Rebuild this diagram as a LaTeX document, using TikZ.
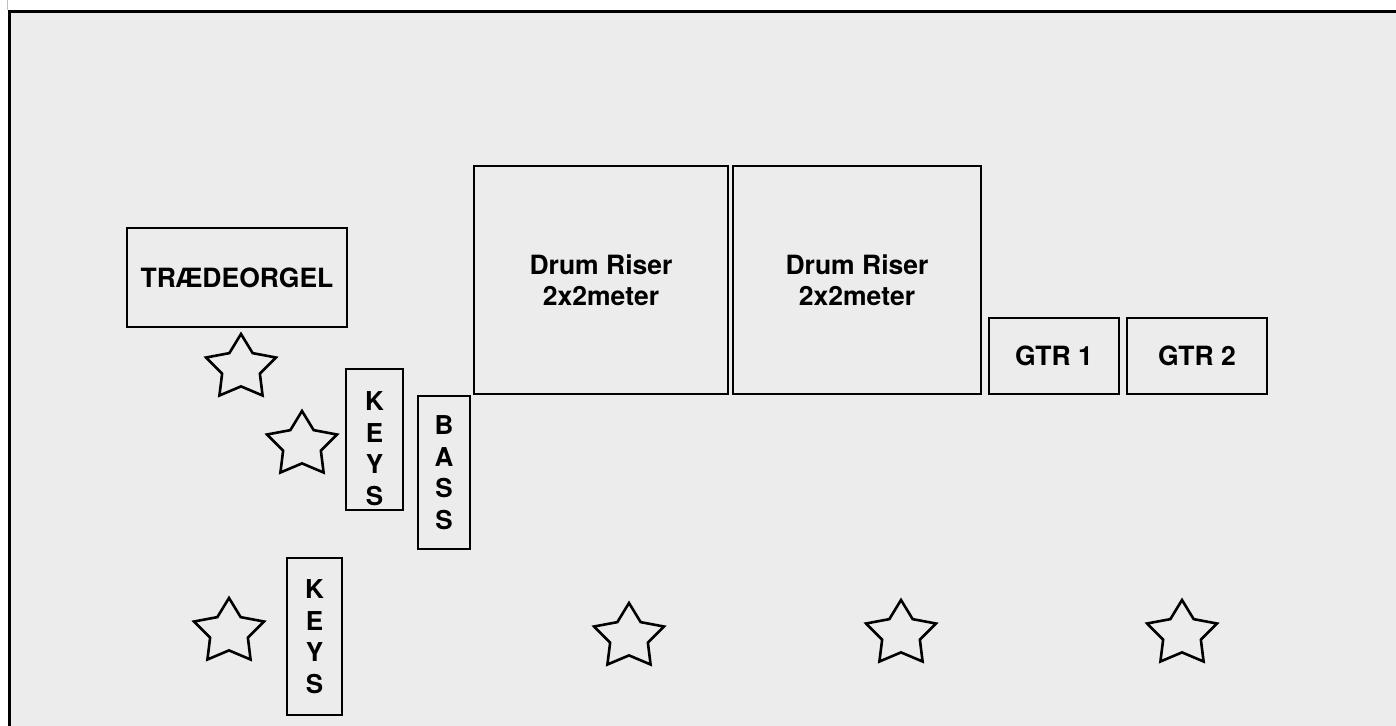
\documentclass[tikz,border=0pt]{standalone}
\usepackage{fontspec}
\setmainfont{TeX Gyre Heros}
\usetikzlibrary{shapes.geometric}
\definecolor{stagebg}{RGB}{236,236,236}
\begin{document}
\begin{tikzpicture}[x=1pt,y=-1pt,
  box/.style={draw=black, line width=2.4pt, rectangle, inner sep=0pt,
    font=\bfseries\fontsize{26.5}{31}\selectfont, align=center},
  vbox/.style={box, font=\bfseries\fontsize{26}{31.5}\selectfont},
  starshape/.style={draw=black, line width=2.6pt, star, star points=5,
    star point ratio=1.85, minimum size=68pt, inner sep=0pt,
    transform shape, xscale=1.08}]
\fill[white] (0,0) rectangle (1396,725);
\useasboundingbox (0,0) rectangle (1396,725);
\fill[stagebg] (9.5,11.5) rectangle (1400,730);
\draw[line width=2.5pt] (9.5,730) -- (9.5,11.5) -- (1400,11.5);
\draw[black!25, line width=1.5pt] (7.5,0) -- (7.5,10);

% boxes
\node[box, minimum width=220pt, minimum height=99pt] (organ) at (237,277.5) {TRÆDEORGEL};
\node[box, minimum width=254pt, minimum height=228pt] (drum1) at (601,280) {Drum Riser\\2x2meter};
\node[box, minimum width=248pt, minimum height=228pt] (drum2) at (857,280) {Drum Riser\\2x2meter};
\node[box, minimum width=130pt, minimum height=76pt] (gtr1) at (1054,356) {GTR 1};
\node[box, minimum width=140pt, minimum height=76pt] (gtr2) at (1197,356) {GTR 2};
\node[box, minimum width=57pt, minimum height=141pt,
  label={[vbox, draw=none, yshift=-9pt]center:K\\E\\Y\\S}] (keys1) at (374.5,439.5) {};
\node[vbox, minimum width=52pt, minimum height=153pt] (bass) at (444,472.5) {B\\A\\S\\S};
\node[vbox, minimum width=55pt, minimum height=157pt] (keys2) at (314.5,636.5) {K\\E\\Y\\S};

% stars
\node[starshape] (s1) at (241,368) {};
\node[starshape] (s2) at (302,445) {};
\node[starshape] (s3) at (229,632) {};
\node[starshape] (s4) at (629,637) {};
\node[starshape] (s5) at (901,634) {};
\node[starshape] (s6) at (1182,634) {};
\end{tikzpicture}
\end{document}
